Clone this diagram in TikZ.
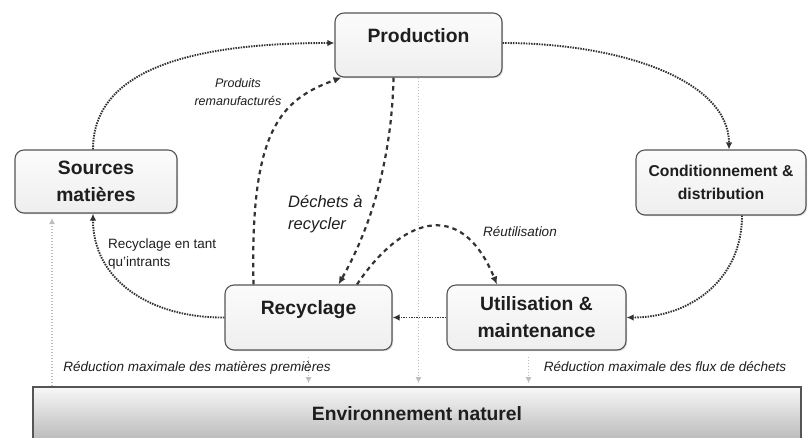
\documentclass[tikz,border=0pt]{standalone}
\usepackage{fontspec}
\setmainfont{Liberation Sans}
\usetikzlibrary{arrows.meta,shadows,calc}

\definecolor{edge}{HTML}{555555}
\definecolor{ink}{HTML}{1E1E1E}
\definecolor{flow}{HTML}{333333}
\definecolor{faint}{HTML}{BDBDBD}

\begin{document}
\begin{tikzpicture}[x=1pt,y=-1pt,
  stage/.style={draw=edge, line width=1.1pt, rounded corners=9pt,
    top color=gray!3, bottom color=gray!13,
    drop shadow={shadow xshift=1.2pt,shadow yshift=-1.2pt,opacity=0.3},
    text=ink, align=center, inner sep=0pt,
    font=\fontsize{19.3}{27}\selectfont\bfseries},
  oneline/.style={text height=14pt, text depth=20pt},
  mainflow/.style={draw=flow, line width=1.9pt, dash pattern=on 1.5pt off 1.1pt,
    -{Latex[length=7pt,width=6.5pt]}},
  backflow/.style={draw=flow, line width=2.2pt, dash pattern=on 4.5pt off 4pt,
    -{Latex[length=8pt,width=7pt]}},
  spill/.style={draw=faint, line width=1.2pt, dash pattern=on 1.5pt off 1.5pt,
    -{Latex[length=6pt,width=6pt]}},
  note/.style={text=ink, inner sep=0pt, font=\fontsize{13.5}{18}\selectfont\itshape},
]
\clip (0,0) rectangle (808,437);

% stages of the product life cycle
\node[stage, oneline, minimum width=167pt, minimum height=64pt] (prod) at (418.5,45) {Production};
\node[stage, minimum width=162pt, minimum height=63pt] (src) at (96,181.5) {Sources\\matières};
\node[stage, minimum width=170pt, minimum height=65pt,
  font=\fontsize{15.7}{23}\selectfont\bfseries] (cond) at (721,182.5) {Conditionnement \&\\distribution};
\node[stage, oneline, minimum width=167pt, minimum height=65pt] (rec) at (308.5,317.5) {Recyclage};
\node[stage, minimum width=179pt, minimum height=65pt] (use) at (536.5,317.5) {Utilisation \&\\maintenance};

% natural environment band
\node[draw=edge, line width=1.6pt, top color=gray!6, bottom color=gray!55,
  minimum width=768pt, minimum height=54pt, inner sep=0pt, text=ink,
  font=\fontsize{19.3}{24}\selectfont\bfseries] (env) at (417,414) {Environnement naturel};

% main loop
\draw[mainflow] ([xshift=-3pt]src.north) .. controls (93,70) and (190,43) .. ([yshift=2pt]prod.west);
\draw[mainflow] ([yshift=2pt]prod.east) .. controls (620,43) and (729,80) .. ([xshift=8pt]cond.north);
\draw[mainflow] ([xshift=21pt]cond.south) .. controls (742,280) and (690,317.5) .. (use.east);
\draw[mainflow] (use.west) -- (rec.east);
\draw[mainflow] (rec.west) .. controls (150,318) and (93,280) .. ([xshift=-3pt]src.south);

% inner loops
\draw[backflow] ([xshift=-55pt]rec.north) .. controls (250,130) and (280,100) .. ([xshift=7pt]prod.south west);
\draw[backflow] ([xshift=-25pt]prod.south) .. controls (392,150) and (375,220) .. ([xshift=30pt]rec.north);
\draw[backflow] ([xshift=48.5pt]rec.north) .. controls (400,220) and (460,195) .. ([xshift=-39.5pt]use.north);

% exchanges with the environment
\coordinate (srcfoot) at (52,218);
\coordinate (recfoot) at ([yshift=-6pt]rec.south);
\coordinate (usefoot) at ([xshift=-8pt,yshift=-6pt]use.south);
\draw[spill] (env.north -| srcfoot) -- (srcfoot);
\draw[spill, shorten >=3pt] (prod.south) -- (prod.south |- env.north);
\draw[spill, shorten >=3pt] (recfoot) -- (recfoot |- env.north);
\draw[spill, shorten >=3pt] (usefoot) -- (usefoot |- env.north);

% labels
\node[note, align=center, font=\fontsize{12.5}{18}\selectfont\itshape] (remanu) at (238,92) {Produits\\remanufacturés};
\node[note, align=left, anchor=west, font=\fontsize{16.5}{22}\selectfont\itshape] (dechets) at (288,214) {Déchets à\\recycler};
\node[note, align=left, anchor=west, font=\fontsize{13.5}{18}\selectfont] (intrants) at (108,254) {Recyclage en tant\\qu’intrants};
\node[note] (reuse) at (520,232) {Réutilisation};
\node[note] (lessraw) at (197,368) {Réduction maximale des matières premières};
\node[note] (lesswaste) at (665,367) {Réduction maximale des flux de déchets};
\end{tikzpicture}
\end{document}
